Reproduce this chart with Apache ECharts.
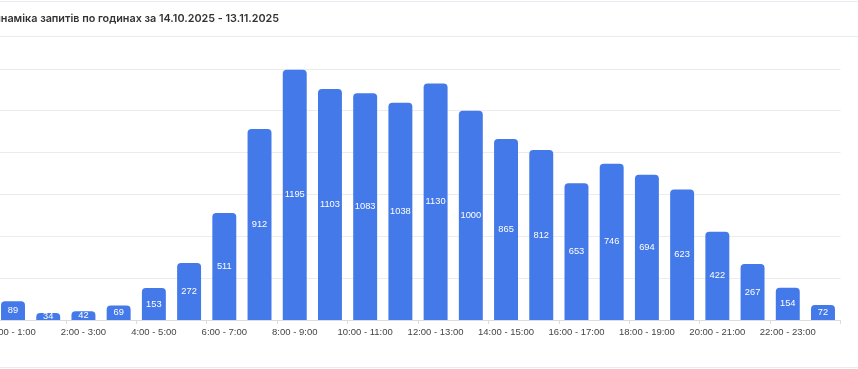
<!DOCTYPE html>
<html>
<head>
<meta charset="utf-8">
<script src="https://cdn.jsdelivr.net/npm/echarts@6/dist/echarts.min.js"></script>
<style>
html,body{margin:0;padding:0;width:858px;height:369px;overflow:hidden;background:#fff;}
#c{position:absolute;left:-42px;top:0;width:900px;height:369px;}
</style>
</head>
<body>
<div id="c"></div>
<script>
const titleText = 'Динаміка запитів по годинах за 14.10.2025 - 13.11.2025';
const categories = ['0:00 - 1:00','1:00 - 2:00','2:00 - 3:00','3:00 - 4:00','4:00 - 5:00','5:00 - 6:00','6:00 - 7:00','7:00 - 8:00','8:00 - 9:00','9:00 - 10:00','10:00 - 11:00','11:00 - 12:00','12:00 - 13:00','13:00 - 14:00','14:00 - 15:00','15:00 - 16:00','16:00 - 17:00','17:00 - 18:00','18:00 - 19:00','19:00 - 20:00','20:00 - 21:00','21:00 - 22:00','22:00 - 23:00','23:00 - 24:00'];
const requests = [89,34,42,69,153,272,511,912,1195,1103,1083,1038,1130,1000,865,812,653,746,694,623,422,267,154,72];

const chart = echarts.init(document.getElementById('c'));
chart.setOption({
  animation: false,
  title: {
    text: titleText,
    left: 22, top: 8,
    textStyle: {fontFamily: 'Inter', fontWeight: 600, fontSize: 10.8, color: '#333'}
  },
  graphic: [
    {type:'line', shape:{x1:0,y1:1.5,x2:900,y2:1.5}, style:{stroke:'#e8ebf1',lineWidth:1}},
    {type:'line', shape:{x1:0,y1:36.5,x2:900,y2:36.5}, style:{stroke:'#e8ebf1',lineWidth:1}},
    {type:'line', shape:{x1:0,y1:367.5,x2:900,y2:367.5}, style:{stroke:'#e8ebf1',lineWidth:1}}
  ],
  grid: {left: 37.4, right: 17.4, top: 68.8, bottom: 49, containLabel: false},
  xAxis: {
    type: 'category',
    data: categories,
    axisLine: {lineStyle: {color: '#dcdcdc'}},
    axisTick: {show: true, length: 4, lineStyle: {color: '#dcdcdc'}},
    axisLabel: {interval: 1, color: '#444', fontSize: 9.5, fontFamily: 'Liberation Sans, Arial', margin: 7}
  },
  yAxis: {
    type: 'value', min: 0, max: 1200, interval: 200,
    axisLabel: {show: false},
    axisLine: {show: false}, axisTick: {show: false},
    splitLine: {lineStyle: {color: '#ececec'}}
  },
  series: [{
    type: 'bar',
    data: requests,
    barWidth: '68%',
    itemStyle: {color: '#4479e9', borderRadius: [4,4,0,0]},
    label: {show: true, position: 'inside', color: '#fff', fontSize: 9.3, fontFamily: 'Liberation Sans, Arial'}
  }]
});
</script>
</body>
</html>
